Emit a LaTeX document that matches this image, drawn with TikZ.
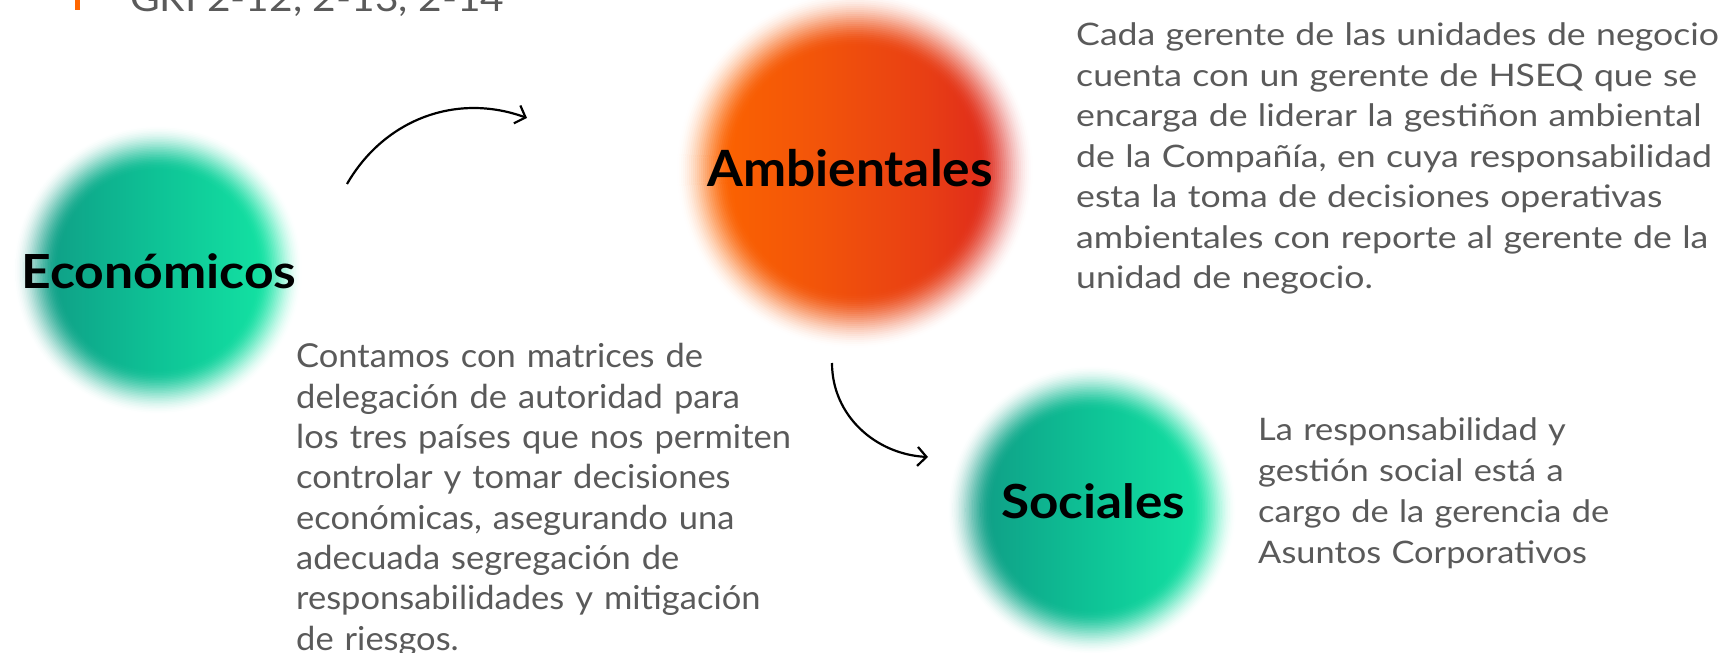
\documentclass[tikz,border=0pt]{standalone}
\usepackage{fontspec}
\setmainfont{Lato}
\newfontfamily\fR{Lato}[FakeStretch=1.15]
\newfontfamily\fL{Lato}[FakeStretch=1.045]
\newfontfamily\fS{Lato}[FakeStretch=1.11]
\newfontfamily\fG{Lato}[FakeStretch=1.10]
\newfontfamily\fE{Lato}[FakeStretch=1.10]
\newfontfamily\fA{Lato}[FakeStretch=1.03]
\newfontfamily\fSo{Lato}[FakeStretch=1.09]
\usetikzlibrary{arrows.meta}
\definecolor{txtgray}{RGB}{90,90,90}
\definecolor{grorange}{RGB}{255,102,0}
\definecolor{ecoA}{RGB}{30,130,120}
\definecolor{ecoB}{RGB}{15,148,130}
\definecolor{ecoC}{RGB}{14,195,150}
\definecolor{ecoD}{RGB}{20,232,165}
\definecolor{ecoE}{RGB}{45,242,180}
\definecolor{ambA}{RGB}{255,112,0}
\definecolor{ambB}{RGB}{252,100,0}
\definecolor{ambC}{RGB}{242,84,10}
\definecolor{ambD}{RGB}{232,62,20}
\definecolor{ambE}{RGB}{218,32,32}
\definecolor{ambF}{RGB}{214,40,70}
\definecolor{ambG}{RGB}{222,62,92}
\pgfdeclarehorizontalshading{greenshade}{100bp}{color(0bp)=(ecoA); color(25bp)=(ecoB); color(50bp)=(ecoC); color(72bp)=(ecoD); color(100bp)=(ecoE)}
\pgfdeclarehorizontalshading{redshade}{100bp}{color(0bp)=(ambA); color(30bp)=(ambB); color(45bp)=(ambC); color(60bp)=(ambD); color(74bp)=(ambE); color(85bp)=(ambF); color(100bp)=(ambG)}
% soft-edged blob: #1 centre, #2 outer radius, #3 solid radius, #4 shading
\newcommand{\softblob}[4]{%
  \foreach \k in {1,...,28}{%
    \pgfmathsetmacro\tk{\k/28}%
    \pgfmathsetmacro\tp{(\k-1)/28}%
    \pgfmathsetmacro\Tk{1-(3*\tk*\tk-2*\tk*\tk*\tk)}%
    \pgfmathsetmacro\Tp{1-(3*\tp*\tp-2*\tp*\tp*\tp)}%
    \pgfmathsetmacro\ak{1-\Tk/\Tp}%
    \pgfmathsetmacro\rk{#2-(#2-#3)*\k/28}%
    \begin{scope}
      \clip #1 circle (\rk);
      \shade[shading=#4, opacity=\ak] #1 ++(-#2,-#2) rectangle ++(2*#2,2*#2);
    \end{scope}
  }%
}
\tikzset{
  label/.style={anchor=base, inner sep=0pt, text=black},
  para/.style={anchor=base west, inner sep=0pt, text width=700pt, align=left, text=txtgray},
  arrowline/.style={line width=2.2pt, -{Straight Barb[length=9pt,width=19pt,line width=2.2pt]}}
}
\begin{document}
\begin{tikzpicture}[x=1pt,y=1pt]
\useasboundingbox (0,0) rectangle (1721,653);
\clip (0,0) rectangle (1721,653);
% GRI header
\fill[grorange] (75,643) rectangle (80,660);
\node[anchor=base west, inner sep=0pt, text=txtgray, font=\fG\fontsize{37}{44}\selectfont] (gri) at (130,641) {GRI 2-12, 2-13, 2-14};
% blobs
\softblob{(158,383)}{146}{100}{greenshade}
\softblob{(855,483)}{180}{124}{redshade}
\softblob{(1092,143)}{146}{100}{greenshade}
% labels
\node[label, font=\fE\bfseries\fontsize{47}{50}\selectfont] (eco) at (159,364) {Económicos};
\node[label, font=\fA\bfseries\fontsize{50}{54}\selectfont] (amb) at (850,466) {Ambientales};
\node[label, font=\fSo\bfseries\fontsize{47}{50}\selectfont] (soc) at (1093,134) {Sociales};
% paragraphs
\node[para, font=\fR\fontsize{31}{40.5}\selectfont] (tamb) at (1076,607) {Cada gerente de las unidades de negocio\\cuenta con un gerente de HSEQ que se\\encarga de liderar la gestiñon ambiental\\de la Compañía, en cuya responsabilidad\\esta la toma de decisiones operativas\\ambientales con reporte al gerente de la\\unidad de negocio.};
\node[para, font=\fL\fontsize{33}{40.3}\selectfont] (teco) at (296,285) {Contamos con matrices de\\delegación de autoridad para\\los tres países que nos permiten\\controlar y tomar decisiones\\económicas, asegurando una\\adecuada segregación de\\responsabilidades y mitigación\\de riesgos.};
\node[para, font=\fS\fontsize{31}{40.8}\selectfont] (tsoc) at (1258,212) {La responsabilidad y\\gestión social está a\\cargo de la gerencia de\\Asuntos Corporativos};
% arrows
\coordinate (a1s) at (347,469);
\coordinate (a1e) at (527,535);
\coordinate (a2s) at (832,290);
\coordinate (a2e) at (928,196);
\draw[arrowline] (a1s) to[out=60,in=160] (a1e);
\draw[arrowline] (a2s) to[out=-90,in=177] (a2e);
\end{tikzpicture}
\end{document}
